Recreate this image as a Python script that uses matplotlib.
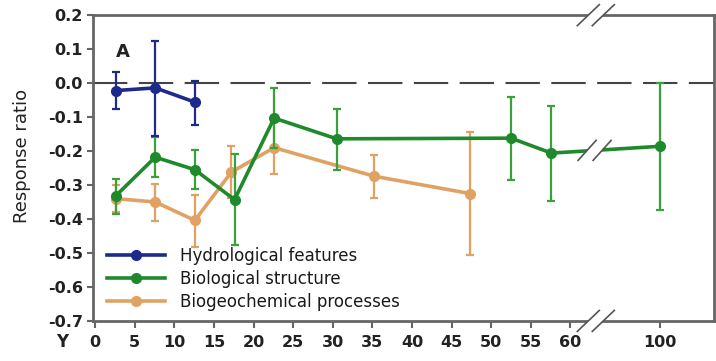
import numpy as np
import matplotlib
matplotlib.use("Agg")
import matplotlib.pyplot as plt
from matplotlib.transforms import ScaledTranslation
from matplotlib.patches import Polygon

plt.rcParams['font.family'] = ['DejaVu Sans']
plt.rcParams['axes.unicode_minus'] = False

# years since restoration, response ratio, error bar ends (low / high)
hydro_x = [2.6, 7.6, 12.6]
hydro_y = [-0.022, -0.014, -0.056]
hydro_lo = [-0.075, -0.157, -0.123]
hydro_hi = [0.032, 0.123, 0.005]

bio_x = [2.6, 7.6, 12.6, 17.6, 22.6, 30.5, 52.5, 57.6, 100]
bio_y = [-0.332, -0.218, -0.255, -0.343, -0.103, -0.164, -0.162, -0.206, -0.186]
bio_lo = [-0.386, -0.276, -0.311, -0.477, -0.192, -0.257, -0.284, -0.347, -0.374]
bio_hi = [-0.281, -0.159, -0.198, -0.208, -0.014, -0.075, -0.041, -0.067, 0.0]

geo_x = [2.6, 7.6, 12.6, 17.2, 22.6, 35.2, 47.3]
geo_y = [-0.340, -0.350, -0.404, -0.262, -0.190, -0.274, -0.325]
geo_lo = [-0.380, -0.406, -0.482, -0.338, -0.267, -0.337, -0.507]
geo_hi = [-0.300, -0.296, -0.330, -0.186, -0.113, -0.211, -0.144]

xtick_years = [0, 5, 10, 15, 20, 25, 30, 35, 40, 45, 50, 55, 60, 100]
ytick_vals = [-0.7, -0.6, -0.5, -0.4, -0.3, -0.2, -0.1, 0.0, 0.1, 0.2]

BLUE = '#1d2a8a'
GREEN = '#1f8a2b'
GREEN_ERR = '#3aa03a'
ORANGE = '#e0a262'
GRAY = '#666666'


def xpos(v):
    # compress the axis after the break at 60 years
    v = np.asarray(v, dtype=float)
    return np.where(v > 60, 60 + (v - 60) * 0.2825, v)


fig = plt.figure(figsize=(7.16, 3.61), dpi=100)
ax = fig.add_axes([0.130, 0.111, 0.867, 0.847])


def draw_series(xs, ys, lo, hi, color, ecolor, label, z):
    xs = xpos(xs)
    ys = np.array(ys)
    err = [ys - np.array(lo), np.array(hi) - ys]
    ax.errorbar(xs, ys, yerr=err, fmt='none', ecolor=ecolor, elinewidth=1.6,
                capsize=3, capthick=1.6, zorder=z)
    ax.plot(xs, ys, '-o', color=color, lw=2.6, ms=7, label=label, zorder=z + 0.1)


ax.axhline(0, color='#444444', lw=1.5, dashes=(16.5, 5.5), zorder=1)

draw_series(geo_x, geo_y, geo_lo, geo_hi, ORANGE, ORANGE, 'Biogeochemical processes', 2)
draw_series(bio_x, bio_y, bio_lo, bio_hi, GREEN, GREEN_ERR, 'Biological structure', 2.3)
draw_series(hydro_x, hydro_y, hydro_lo, hydro_hi, BLUE, BLUE, 'Hydrological features', 2.6)

ax.set_xlim(-0.25, 78.1)
ax.set_ylim(-0.7, 0.2)
ax.set_xticks(xpos(xtick_years))
ax.set_xticklabels([str(t) for t in xtick_years])
ax.set_yticks(ytick_vals)
ax.set_yticklabels(['%.1f' % v for v in ytick_vals])

for s in ax.spines.values():
    s.set_color(GRAY)
    s.set_linewidth(2)

ax.tick_params(axis='both', direction='out', color=GRAY, width=1.5, labelsize=11.5,
               labelcolor='#222222')
ax.tick_params(axis='x', length=5, pad=5)
ax.tick_params(axis='y', length=4.5, pad=3)
for lab in ax.get_xticklabels() + ax.get_yticklabels():
    lab.set_fontweight('bold')

ax.set_ylabel('Response ratio', fontsize=13, color='#222222')
ax.yaxis.set_label_coords(-0.100, 0.54)

ax.text(0.048, 0.88, 'A', transform=ax.transAxes, fontsize=13, fontweight='bold',
        ha='center', va='center', color='#222222')
fig.text(62 / 716, 1 - 342 / 361, 'Y', fontsize=12, fontweight='bold',
         ha='center', va='center', color='#222222')

handles, labels = ax.get_legend_handles_labels()
order = [2, 1, 0]
ax.legend([handles[i] for i in order], [labels[i] for i in order],
          loc='center left', bbox_to_anchor=(0.0225, 0.137), frameon=False,
          fontsize=12, handlelength=3.5, handletextpad=0.85, labelspacing=0.3,
          borderpad=0, borderaxespad=0, labelcolor='#1a1a1a')


def break_mark(x, y, base, half_w=0.11, half_h=0.105, sep=0.075):
    # two parallel slashes with a white gap, offsets in inches
    trans = fig.dpi_scale_trans + ScaledTranslation(x, y, base)
    gap = Polygon([(-sep - half_w, -half_h), (sep - half_w, -half_h),
                   (sep + half_w, half_h), (-sep + half_w, half_h)],
                  closed=True, facecolor='white', edgecolor='none',
                  transform=trans, clip_on=False, zorder=5)
    ax.add_patch(gap)
    for o in (-sep, sep):
        ax.plot([o - half_w, o + half_w], [-half_h, half_h], color='#555555',
                lw=1.2, transform=trans, clip_on=False, zorder=6)


xb = 63.2
break_mark(xb, 1.0, ax.get_xaxis_transform())
break_mark(xb, 0.0, ax.get_xaxis_transform())
break_mark(63.05, -0.198, ax.transData, half_w=0.09, half_h=0.1)

fig.savefig('out.png', dpi=100)
